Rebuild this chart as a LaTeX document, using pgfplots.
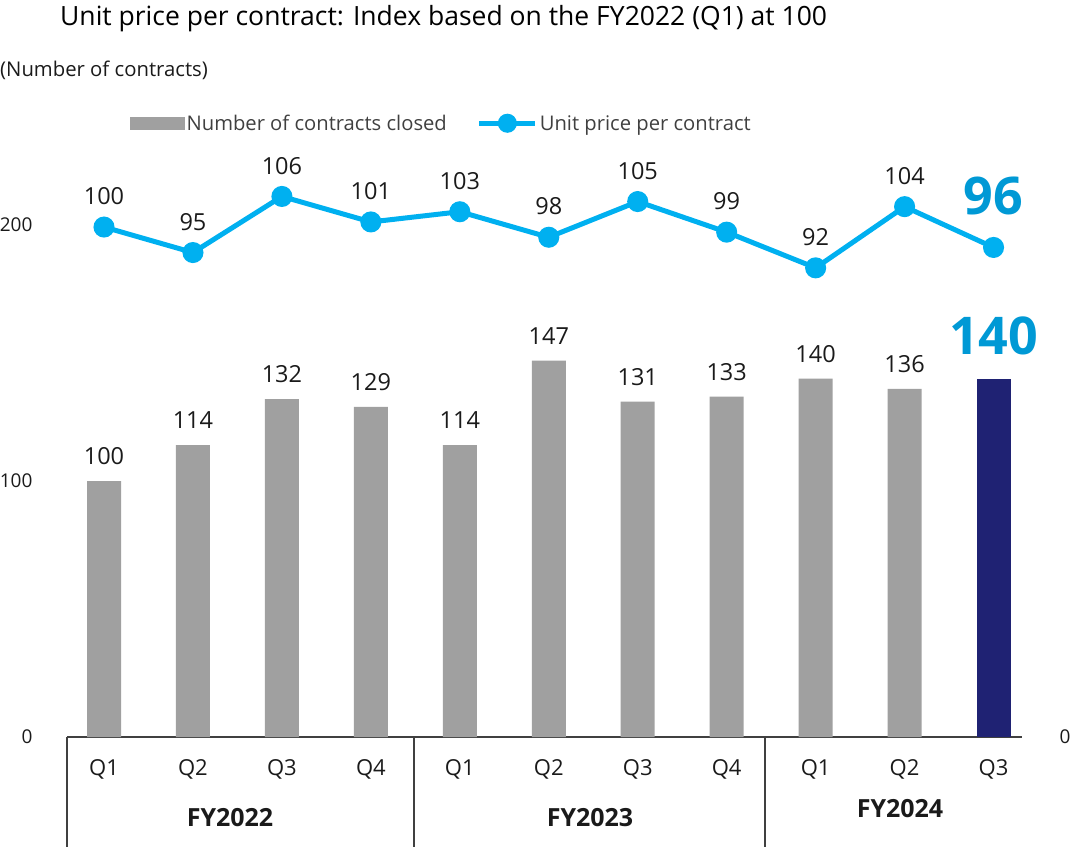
\documentclass[border=0pt]{standalone}
\usepackage{pgfplots}
\pgfplotsset{compat=1.18}
\usepackage{fontspec}
\setmainfont{Open Sans}
\definecolor{barGray}{HTML}{A0A0A0}
\definecolor{navy}{HTML}{1F2273}
\definecolor{lineBlue}{HTML}{00B0F0}
\definecolor{bigBlue}{HTML}{0099D5}
\definecolor{txt}{HTML}{1A1A1A}
\definecolor{legTxt}{HTML}{404040}
\definecolor{axGray}{HTML}{404040}
\newcommand{\fs}[1]{\fontsize{#1}{#1}\selectfont}
\begin{document}
\begin{tikzpicture}
\path[use as bounding box] (0pt,0pt) rectangle (1076pt,-847pt);
\node[anchor=base west, inner sep=0pt, font=\fs{26.5}, text=black] at (60pt,-25pt) {Unit price per contract: Index based on the FY2022 (Q1) at 100};
\node[anchor=base west, inner sep=0pt, font=\fs{20.3}, text=txt] at (0pt,-76pt) {(Number of contracts)};
% left axis: bars
\begin{axis}[
  at={(67pt,-737pt)}, anchor=south west,
  scale only axis, width=955pt, height=640pt,
  xmin=-0.416, xmax=10.32, ymin=0, ymax=250,
  /pgf/number format/assume math mode=true,
  axis x line*=bottom, axis y line*=left,
  y axis line style={draw=none},
  x axis line style={draw=axGray, line width=1.5pt, -},
  major tick length=0pt,
  ytick={0,100,200},
  yticklabel style={font=\fs{19}, text=txt, anchor=east, xshift=-31pt},
  xtick={0,...,10},
  xticklabels={Q1,Q2,Q3,Q4,Q1,Q2,Q3,Q4,Q1,Q2,Q3},
  xticklabel style={font=\fs{22}, text=txt, anchor=base, yshift=-38pt},
  clip=false,
]
\addplot[ybar, bar width=34pt, bar shift=0pt, fill=barGray, draw=none,
  nodes near coords,
  every node near coord/.append style={font=\fs{23.5}, text=txt, inner sep=0pt, anchor=south, yshift=16pt}]
  coordinates {(0,100) (1,114) (2,132) (3,129) (4,114) (5,147) (6,131) (7,133) (8,140) (9,136)};
\addplot[ybar, bar width=34pt, bar shift=0pt, fill=navy, draw=none,
  nodes near coords,
  every node near coord/.append style={font=\bfseries\fs{52}, text=bigBlue, inner sep=0pt, anchor=south, yshift=23pt}]
  coordinates {(10,140)};
\end{axis}
% right axis: line
\begin{axis}[
  at={(67pt,-737pt)}, anchor=south west,
  scale only axis, width=955pt, height=640pt,
  xmin=-0.416, xmax=10.32, ymin=0, ymax=125.5,
  /pgf/number format/assume math mode=true,
  axis x line=none, axis y line*=right,
  y axis line style={draw=none},
  major tick length=0pt,
  ytick={0},
  yticklabel style={font=\fs{19}, text=txt, anchor=west, xshift=34pt},
  clip=false,
  legend columns=2,
  legend style={at={(axis description cs:0.066,0.959)}, anchor=west, draw=none, fill=none,
    inner sep=0pt, font=\fs{20.2}, text=legTxt,
    nodes={inner sep=0pt, text depth=0pt},
    column sep=2pt,
    /tikz/every even column/.append style={column sep=30pt}},
]
\addlegendimage{legend image code/.code={\fill[barGray] (0pt,-6pt) rectangle (54pt,6pt);}}
\addlegendentry{Number of contracts closed}
\addplot[lineBlue, line width=5pt, mark=*, mark size=8pt,
  mark options={fill=lineBlue, draw=none},
  legend image code/.code={\draw[lineBlue, line width=5pt] (0pt,0pt) -- (56pt,0pt); \fill[lineBlue] (28pt,0pt) circle (7pt);}]
  coordinates {(0,100) (1,95) (2,106) (3,101) (4,103) (5,98) (6,105) (7,99) (8,92) (9,104) (10,96)};
\addlegendentry{Unit price per contract}
\addplot[draw=none, mark=none, nodes near coords, forget plot,
  every node near coord/.append style={font=\fs{23.5}, text=txt, inner sep=0pt, anchor=south, yshift=22pt}]
  coordinates {(0,100) (1,95) (2,106) (3,101) (4,103) (5,98) (6,105) (7,99) (8,92) (9,104)};
\addplot[draw=none, mark=none, nodes near coords, forget plot,
  every node near coord/.append style={font=\bfseries\fs{52}, text=bigBlue, inner sep=0pt, anchor=south, yshift=32pt}]
  coordinates {(10,96)};
\end{axis}
% category group separators and year labels
\draw[axGray, line width=1.5pt] (67pt,-737pt) -- (67pt,-847pt);
\draw[axGray, line width=1.5pt] (414pt,-737pt) -- (414pt,-847pt);
\draw[axGray, line width=1.5pt] (765pt,-737pt) -- (765pt,-847pt);
\node[font=\bfseries\fs{25}, text=txt, anchor=base] at (230pt,-826pt) {FY2022};
\node[font=\bfseries\fs{25}, text=txt, anchor=base] at (590pt,-826pt) {FY2023};
\node[font=\bfseries\fs{25}, text=txt, anchor=base] at (900pt,-817pt) {FY2024};
\end{tikzpicture}
\end{document}
